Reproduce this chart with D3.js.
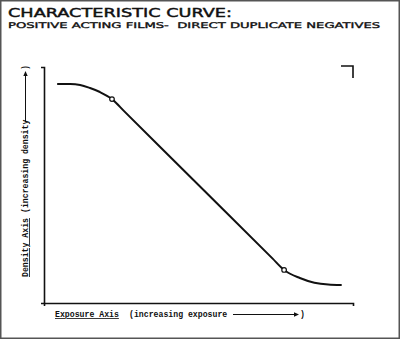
<!DOCTYPE html>
<html>
<head>
<meta charset="utf-8">
<script src="https://cdn.jsdelivr.net/npm/d3@7"></script>
<style>
  html, body { margin: 0; padding: 0; background: #fff; }
  svg { display: block; }
</style>
</head>
<body>
<svg id="chart" width="400" height="339"></svg>
<script>
// Characteristic curve of a positive acting (direct duplicating) film:
// density falls as exposure rises, with a shoulder and a toe.
const titleText = "CHARACTERISTIC CURVE:";
const subtitleText = "POSITIVE ACTING FILMS-  DIRECT DUPLICATE NEGATIVES";
const xAxisName = "Exposure Axis";
const xAxisNote = "(increasing exposure";
const yAxisName = "Density Axis";
const yAxisNote = "(increasing density";

// Relative exposure (0-10) and relative density (0-10) along the curve
const exposure = [0.45, 0.85, 1.17, 1.49, 1.81, 2.20, 2.60, 5.00, 7.40, 7.77, 8.28, 8.75, 9.20, 9.61];
const density  = [9.28, 9.28, 9.24, 9.11, 8.94, 8.64, 8.12, 5.00, 1.88, 1.40, 1.06, 0.86, 0.78, 0.76];
// Indices of the two marked points that bound the straight-line portion
const markedPoints = [5, 9];

const svg = d3.select("#chart");
const W = 400, H = 339;

// Frame around the figure
svg.append("rect")
  .attr("x", 0.75).attr("y", 0.75)
  .attr("width", W - 1.5).attr("height", H - 1.5)
  .attr("fill", "#fff").attr("stroke", "#555").attr("stroke-width", 1.5);

const x = d3.scaleLinear().domain([0, 10]).range([44, 353]);
const y = d3.scaleLinear().domain([0, 10]).range([303, 67]);

// Titles
svg.append("text")
  .attr("x", 8).attr("y", 17.3)
  .attr("font-family", "DejaVu Sans, sans-serif")
  .attr("font-size", 12.8)
  .attr("textLength", 224).attr("lengthAdjust", "spacingAndGlyphs")
  .attr("fill", "#111").attr("stroke", "#111").attr("stroke-width", 0.45)
  .text(titleText);

svg.append("text")
  .attr("x", 8).attr("y", 27.7)
  .attr("font-family", "DejaVu Sans, sans-serif")
  .attr("font-size", 7.8)
  .attr("textLength", 372).attr("lengthAdjust", "spacingAndGlyphs")
  .attr("fill", "#111").attr("stroke", "#111").attr("stroke-width", 0.35)
  .style("white-space", "pre")
  .text(subtitleText);

// Axes: bare lines with short end ticks
const axisStyle = g => {
  g.select(".domain").attr("stroke", "#111").attr("stroke-width", 1.6);
};
svg.append("g")
  .attr("transform", `translate(0,${y(0)})`)
  .call(d3.axisBottom(x).tickValues([]).tickSizeOuter(3))
  .call(axisStyle);
svg.append("g")
  .attr("transform", `translate(${x(0)},0)`)
  .call(d3.axisLeft(y).tickValues([]).tickSizeOuter(3))
  .call(axisStyle);

// Corner crop mark at upper right
const cx = x.range()[1], cy = y.range()[1] - 1;
svg.append("path")
  .attr("d", `M${cx - 12},${cy}H${cx}V${cy + 12}`)
  .attr("fill", "none").attr("stroke", "#111").attr("stroke-width", 1.6);

// Curve
const pts = exposure.map((e, i) => [e, density[i]]);
const line = d3.line()
  .x(d => x(d[0])).y(d => y(d[1]))
  .curve(d3.curveMonotoneX);
svg.append("path")
  .datum(pts)
  .attr("d", line)
  .attr("fill", "none")
  .attr("stroke", "#111")
  .attr("stroke-width", 2)
  .attr("stroke-linecap", "round");

svg.selectAll("circle.mark")
  .data(markedPoints.map(i => pts[i]))
  .join("circle")
  .attr("class", "mark")
  .attr("cx", d => x(d[0])).attr("cy", d => y(d[1]))
  .attr("r", 2.3)
  .attr("fill", "#fff").attr("stroke", "#111").attr("stroke-width", 1.2);

// Axis captions in typewriter face
const mono = "Liberation Mono, Courier New, monospace";
const fs = 8.2;

// x caption
const xCap = svg.append("g").attr("font-family", mono).attr("font-size", fs)
  .attr("font-weight", "bold").attr("fill", "#111");
xCap.append("text").attr("x", 55).attr("y", 317)
  .style("text-decoration", "underline")
  .text(xAxisName);
xCap.append("text").attr("x", 129).attr("y", 317).text(xAxisNote);
xCap.append("line").attr("x1", 233).attr("y1", 314.5).attr("x2", 298).attr("y2", 314.5)
  .attr("stroke", "#111").attr("stroke-width", 1);
xCap.append("path").attr("d", "M294,312.3L299,314.5L294,316.7Z").attr("fill", "#111");
xCap.append("text").attr("x", 300).attr("y", 317).text(")");

// y caption (rotated, reading upward)
const yCap = svg.append("g").attr("font-family", mono).attr("font-size", fs)
  .attr("font-weight", "bold").attr("fill", "#111")
  .attr("transform", "translate(28,0) rotate(-90)");
yCap.append("text").attr("x", -277).attr("y", 0)
  .style("text-decoration", "underline")
  .text(yAxisName);
yCap.append("text").attr("x", -213).attr("y", 0).text(yAxisNote);
yCap.append("line").attr("x1", -122).attr("y1", -2.5).attr("x2", -72).attr("y2", -2.5)
  .attr("stroke", "#111").attr("stroke-width", 1);
yCap.append("path").attr("d", "M-76,-4.7L-71,-2.5L-76,-0.3Z").attr("fill", "#111");
yCap.append("text").attr("x", -70).attr("y", 0).text(")");
</script>
</body>
</html>
